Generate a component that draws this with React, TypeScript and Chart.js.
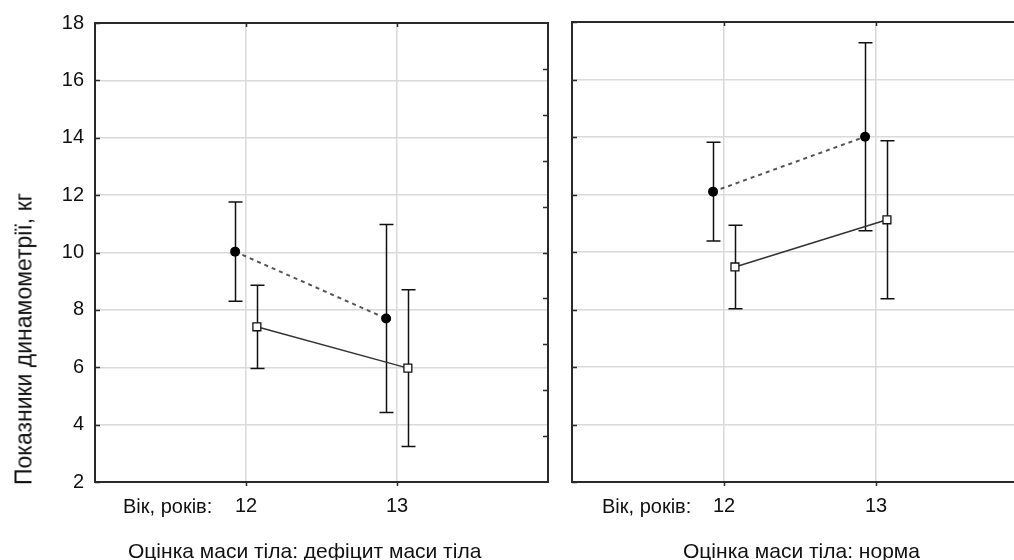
import React, { useEffect, useRef } from "react";
import { Chart, registerables } from "chart.js";

Chart.register(...registerables);

// ---- data ----
const ages = [12, 13];
const yTickValues = [2, 4, 6, 8, 10, 12, 14, 16, 18];

const deficitFilledMean = [10.03, 7.7];
const deficitFilledErr = [1.73, 3.28];
const deficitOpenMean = [7.41, 5.97];
const deficitOpenErr = [1.45, 2.73];

const normFilledMean = [12.1, 14.01];
const normFilledErr = [1.72, 3.27];
const normOpenMean = [9.48, 11.12];
const normOpenErr = [1.45, 2.75];

const panelTitles = ["Оцінка маси тіла: дефіцит маси тіла", "Оцінка маси тіла: норма"];
const xAxisLabel = "Вік, років:";
const yAxisTitle = "Показники динамометрії, кг";

// ---- style constants ----
const FONT = "'Liberation Sans', Arial, sans-serif";
const X_OFFSET = 0.072;
const TEXT = "#111";
const GRID = "#d9d9d9";
const FRAME = "#2a2a2a";

const panelPlugin = {
  id: "panelDecor",
  beforeDatasetsDraw(chart: any) {
    const { ctx, chartArea: a, scales } = chart;
    const xs = scales.x;
    const ys = scales.y;
    ctx.save();
    // frame
    ctx.strokeStyle = FRAME;
    ctx.lineWidth = 2;
    ctx.strokeRect(a.left, a.top, a.right - a.left, a.bottom - a.top);
    // tick marks
    ctx.lineWidth = 1.5;
    ctx.beginPath();
    yTickValues.forEach((v) => {
      const py = Math.round(ys.getPixelForValue(v)) + 0.5;
      ctx.moveTo(a.left, py);
      ctx.lineTo(a.left + 5, py);
    });
    const yMin = ys.min;
    const yMax = ys.max;
    for (let i = 1; i < 10; i++) {
      const py = Math.round(ys.getPixelForValue(yMin + ((yMax - yMin) * i) / 10)) + 0.5;
      ctx.moveTo(a.right, py);
      ctx.lineTo(a.right - 5, py);
    }
    ages.forEach((v) => {
      const px = Math.round(xs.getPixelForValue(v)) + 0.5;
      ctx.moveTo(px, a.top);
      ctx.lineTo(px, a.top + 4);
      ctx.moveTo(px, a.bottom);
      ctx.lineTo(px, a.bottom + 4);
    });
    ctx.stroke();
    // error bars
    ctx.strokeStyle = "#111";
    ctx.lineWidth = 1.5;
    chart.data.datasets.forEach((ds: any) => {
      const errs = ds.errors as number[];
      ds.data.forEach((p: any, i: number) => {
        const px = Math.round(xs.getPixelForValue(p.x)) + 0.5;
        const top = ys.getPixelForValue(p.y + errs[i]);
        const bot = ys.getPixelForValue(p.y - errs[i]);
        ctx.beginPath();
        ctx.moveTo(px, top);
        ctx.lineTo(px, bot);
        ctx.moveTo(px - 7, top);
        ctx.lineTo(px + 7, top);
        ctx.moveTo(px - 7, bot);
        ctx.lineTo(px + 7, bot);
        ctx.stroke();
      });
    });
    ctx.restore();
  },
};

type PanelProps = {
  filledMean: number[];
  filledErr: number[];
  openMean: number[];
  openErr: number[];
  showY: boolean;
  left: number;
  width: number;
  yAxisWidth: number;
};

function Panel(props: PanelProps) {
  const ref = useRef<HTMLCanvasElement | null>(null);
  useEffect(() => {
    if (!ref.current) return;
    const chart = new Chart(ref.current, {
      type: "line",
      data: {
        datasets: [
          {
            label: "filled",
            data: ages.map((a, i) => ({ x: a - X_OFFSET, y: props.filledMean[i] })),
            errors: props.filledErr,
            borderColor: "#555",
            borderWidth: 2,
            borderDash: [4, 4],
            pointStyle: "circle",
            pointRadius: 5,
            pointBackgroundColor: "#000",
            pointBorderColor: "#000",
            pointBorderWidth: 0,
            fill: false,
            tension: 0,
          } as any,
          {
            label: "open",
            data: ages.map((a, i) => ({ x: a + X_OFFSET, y: props.openMean[i] })),
            errors: props.openErr,
            borderColor: "#333",
            borderWidth: 1.5,
            pointStyle: "rect",
            pointRadius: 5.6,
            pointBackgroundColor: "#fff",
            pointBorderColor: "#111",
            pointBorderWidth: 1.3,
            fill: false,
            tension: 0,
          } as any,
        ],
      },
      options: {
        animation: false,
        responsive: false,
        maintainAspectRatio: false,
        layout: { padding: { top: 22, right: 12, left: 0, bottom: 0 } },
        plugins: { legend: { display: false }, tooltip: { enabled: false }, title: { display: false } },
        scales: {
          x: {
            type: "linear",
            min: 11,
            max: 14,
            afterBuildTicks: (s: any) => {
              s.ticks = ages.map((v) => ({ value: v }));
            },
            afterFit: (s: any) => {
              s.height = 78;
            },
            ticks: {
              color: TEXT,
              font: { family: FONT, size: 20 },
              padding: 12,
              maxRotation: 0,
              autoSkip: false,
              callback: (v: any) => String(v),
            },
            grid: { color: GRID, lineWidth: 1.5, drawTicks: false },
            border: { display: false },
          },
          y: {
            type: "linear",
            min: 2,
            max: 18,
            afterBuildTicks: (s: any) => {
              s.ticks = yTickValues.map((v) => ({ value: v }));
            },
            afterFit: (s: any) => {
              s.width = props.yAxisWidth;
            },
            ticks: {
              display: props.showY,
              color: TEXT,
              font: { family: FONT, size: 20 },
              padding: 11,
              callback: (v: any) => String(v),
            },
            grid: { color: GRID, lineWidth: 1.5, drawTicks: false },
            border: { display: false },
          },
        },
      } as any,
      plugins: [panelPlugin],
    });
    return () => chart.destroy();
  }, []);
  return (
    <canvas
      ref={ref}
      width={props.width}
      height={560}
      style={{ position: "absolute", left: props.left, top: 0, width: props.width, height: 560 }}
    />
  );
}

const textBase: React.CSSProperties = {
  position: "absolute",
  fontFamily: FONT,
  color: TEXT,
  whiteSpace: "nowrap",
  lineHeight: 1,
};

export default function App() {
  return (
    <div
      style={{
        position: "fixed",
        left: 0,
        top: 0,
        width: 1014,
        height: 560,
        overflow: "hidden",
        background: "#fff",
      }}
    >
      <Panel
        filledMean={deficitFilledMean}
        filledErr={deficitFilledErr}
        openMean={deficitOpenMean}
        openErr={deficitOpenErr}
        showY={true}
        left={0}
        width={560}
        yAxisWidth={95}
      />
      <Panel
        filledMean={normFilledMean}
        filledErr={normFilledErr}
        openMean={normOpenMean}
        openErr={normOpenErr}
        showY={false}
        left={560}
        width={480}
        yAxisWidth={12}
      />
      <div style={{ ...textBase, left: 123, top: 496, fontSize: 20 }}>{xAxisLabel}</div>
      <div style={{ ...textBase, left: 602, top: 496, fontSize: 20 }}>{xAxisLabel}</div>
      <div style={{ ...textBase, left: 128, top: 540, fontSize: 21 }}>{panelTitles[0]}</div>
      <div style={{ ...textBase, left: 683, top: 540, fontSize: 21 }}>{panelTitles[1]}</div>
      <div
        style={{
          ...textBase,
          left: 24,
          top: 339,
          fontSize: 23,
          transform: "translate(-50%, -50%) rotate(-90deg)",
        }}
      >
        {yAxisTitle}
      </div>
    </div>
  );
}
